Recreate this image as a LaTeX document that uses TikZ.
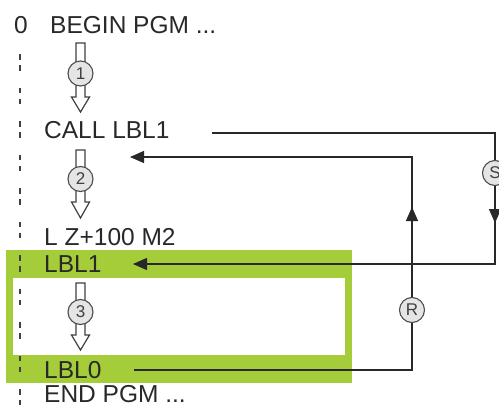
\documentclass[tikz,border=0pt]{standalone}
\usepackage{fontspec}
\setmainfont{Liberation Sans}
\usetikzlibrary{arrows.meta}
\definecolor{hgreen}{RGB}{165,205,57}
\definecolor{ln}{RGB}{40,40,40}
\newcommand\bkarrow[3]{\draw[barrow] (76,#1) -- (85,#1) -- (85,#2) -- (89.5,#2) -- (80.5,#3) -- (71.5,#2) -- (76,#2) -- cycle;}
\begin{document}
\begin{tikzpicture}[x=1pt,y=-1pt,
 txt/.style={anchor=base west,inner sep=0pt,font=\fontsize{24.5}{28}\selectfont,text=ln},
 conn/.style={draw=ln,line width=1.3pt},
 tip/.style={-{Triangle[length=14pt,width=12pt]}},
 numc/.style={circle,draw=black!70,fill=black!10,line width=1.1pt,minimum size=25pt,inner sep=0pt,font=\fontsize{17}{18}\selectfont,text=black!75},
 barrow/.style={draw=black!75,fill=white,line width=1.2pt,line join=miter},
 guide/.style={draw=black!75,line width=2pt,dash pattern=on 5.5pt off 5.7pt on 5.5pt off 16.8pt}]
\useasboundingbox (0,0) rectangle (499,405);
\clip (0,0) rectangle (499,405);
% green frame
\fill[hgreen] (6,250) rectangle (352,383);
\fill[white] (13,278) rectangle (345,355);
% dashed guide
\draw[guide] (20,54) -- (20,410);
% texts
\node[txt] (t0) at (14,33) {0};
\node[txt] (tbegin) at (50,33) {BEGIN PGM ...};
\node[txt] (tcall) at (44,138) {CALL LBL1};
\node[txt] (tlz) at (44,245) {L Z+100 M2};
\node[txt] (tlbl1) at (44,272) {LBL1};
\node[txt] (tlbl0) at (44,378) {LBL0};
\node[txt] (tend) at (44,402) {END PGM ...};
% block arrows
\bkarrow{43}{97}{112}
\node[numc] (n1) at (80.5,73.5) {1};
\bkarrow{150}{202}{218}
\node[numc] (n2) at (80.5,179) {2};
\bkarrow{283}{335}{350}
\node[numc] (n3) at (80.5,312) {3};
% S path
\coordinate (s0) at (212,133);
\coordinate (s1) at (495,133);
\node[numc] (S) at (495,173) {S};
\coordinate (s2) at (495,264);
\coordinate (s3) at (133,264);
\coordinate (sa) at (495,223);
\draw[conn] (s0) -- (s1) -- (S.north);
\draw[conn,tip] (S.south) -- (s2) -- (s3);
\draw[conn,tip] (S.south) -- (sa);
% R path
\coordinate (r0) at (134,370);
\coordinate (r1) at (412,370);
\node[numc] (R) at (412,310) {R};
\coordinate (r2) at (412,157);
\coordinate (r3) at (130,157);
\coordinate (ra) at (412,207);
\draw[conn] (r0) -- (r1) -- (R.south);
\draw[conn,tip] (R.north) -- (r2) -- (r3);
\draw[conn,tip] (R.north) -- (ra);
\end{tikzpicture}
\end{document}
